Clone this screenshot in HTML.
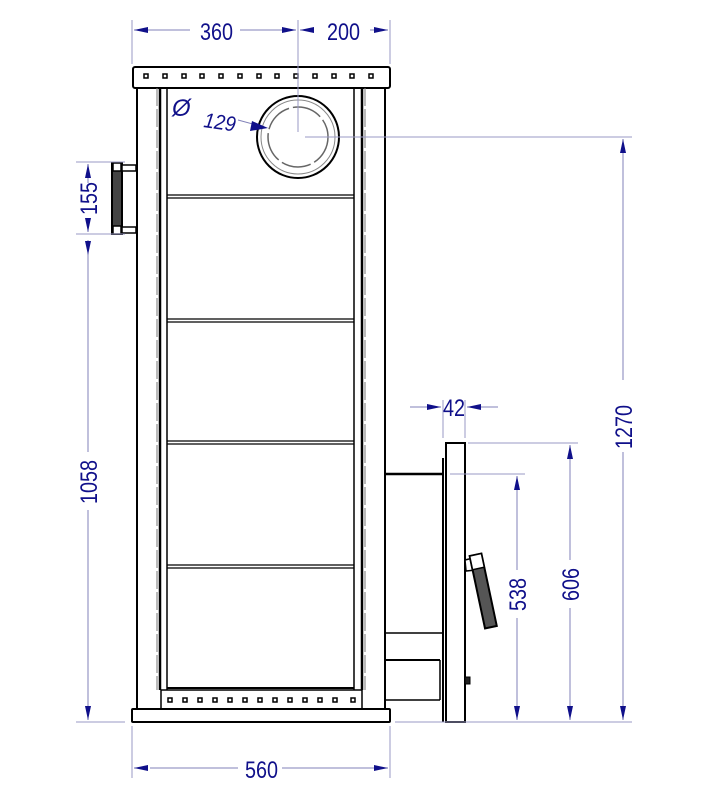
<!DOCTYPE html>
<html><head><meta charset="utf-8"><style>body{margin:0;background:#fff}svg{display:block}</style></head><body>
<svg width="702" height="800" viewBox="0 0 702 800" xmlns="http://www.w3.org/2000/svg" font-family="Liberation Sans, sans-serif">
<defs>
<marker id="a" markerWidth="14" markerHeight="6" refX="14" refY="3" orient="auto" markerUnits="userSpaceOnUse"><path d="M0,0 L14,3 L0,6 z" fill="#10108a"/></marker>
</defs>
<g stroke="#000" fill="none">
<rect x="133" y="67" width="257" height="21" rx="2" stroke-width="2" fill="#fff"/>
<line x1="137" y1="88" x2="137" y2="709" stroke-width="2"/>
<line x1="385" y1="88" x2="385" y2="709" stroke-width="2"/>
<line x1="160" y1="88" x2="160" y2="690" stroke-width="2.5"/>
<line x1="157" y1="88" x2="157" y2="690" stroke-width="1" stroke-dasharray="18,3" stroke="#777"/>
<line x1="167" y1="88" x2="167" y2="690" stroke-width="1.5"/>
<line x1="354" y1="88" x2="354" y2="690" stroke-width="1.5"/>
<line x1="362" y1="88" x2="362" y2="690" stroke-width="2.5"/>
<line x1="365" y1="88" x2="365" y2="690" stroke-width="1" stroke-dasharray="18,3" stroke="#777"/>
<rect x="161" y="690" width="201" height="19" stroke-width="1.5" fill="#fff"/>
<line x1="167" y1="688" x2="354" y2="688" stroke-width="2"/>
<rect x="132" y="709" width="258" height="13" rx="1" stroke-width="2" fill="#fff"/>
<g stroke-width="1.2"><line x1="167" y1="195" x2="354" y2="195"/><line x1="167" y1="198" x2="354" y2="198"/>
<line x1="167" y1="319" x2="354" y2="319"/><line x1="167" y1="322" x2="354" y2="322"/>
<line x1="167" y1="441" x2="354" y2="441"/><line x1="167" y1="444" x2="354" y2="444"/>
<line x1="167" y1="565" x2="354" y2="565"/><line x1="167" y1="568" x2="354" y2="568"/></g>
<circle cx="298" cy="137" r="41" stroke-width="2"/>
<circle cx="298" cy="137" r="37" stroke-width="1" stroke="#888"/>
<circle cx="298" cy="137" r="30" stroke-width="1.5" stroke="#666" stroke-dasharray="30,4"/>
<rect x="112" y="163" width="10" height="71" stroke-width="2" fill="#444"/>
<rect x="113" y="163" width="8" height="8" fill="#fff" stroke-width="1.5"/>
<rect x="113" y="226" width="8" height="8" fill="#fff" stroke-width="1.5"/>
<rect x="122" y="165" width="14" height="6" fill="#fff" stroke-width="1.5"/>
<rect x="122" y="227" width="14" height="6" fill="#fff" stroke-width="1.5"/>
<line x1="385" y1="474" x2="443" y2="474" stroke-width="2.5"/>
<line x1="385" y1="633" x2="443" y2="633" stroke-width="1.5"/>
<line x1="385" y1="660" x2="440" y2="660" stroke-width="2"/>
<line x1="385" y1="700" x2="440" y2="700" stroke-width="1.5"/>
<line x1="440" y1="660" x2="440" y2="700" stroke-width="1.5"/>
<line x1="443" y1="458" x2="443" y2="722" stroke-width="2"/>
<rect x="446" y="443" width="19" height="279" stroke-width="2" fill="#fff"/>
<rect x="465" y="677" width="5" height="7" fill="#222" stroke-width="1"/>
<path d="M465,560 L473,558 L476,570 L466,571 z" stroke-width="1.5" fill="#fff"/>
<g transform="rotate(-12 483 590)"><rect x="477" y="554" width="12" height="74" stroke-width="2" fill="#555"/><rect x="477" y="554" width="12" height="14" stroke-width="1.5" fill="#fff"/></g>
</g>
<g fill="#fff" stroke="#000" stroke-width="1.5">
<rect x="144" y="74" width="4" height="4"/><rect x="163" y="74" width="4" height="4"/><rect x="182" y="74" width="4" height="4"/><rect x="200" y="74" width="4" height="4"/><rect x="219" y="74" width="4" height="4"/><rect x="238" y="74" width="4" height="4"/><rect x="257" y="74" width="4" height="4"/><rect x="275" y="74" width="4" height="4"/><rect x="294" y="74" width="4" height="4"/><rect x="313" y="74" width="4" height="4"/><rect x="332" y="74" width="4" height="4"/><rect x="350" y="74" width="4" height="4"/><rect x="369" y="74" width="4" height="4"/>
<rect x="168" y="698" width="4" height="4"/><rect x="183" y="698" width="4" height="4"/><rect x="198" y="698" width="4" height="4"/><rect x="213" y="698" width="4" height="4"/><rect x="228" y="698" width="4" height="4"/><rect x="243" y="698" width="4" height="4"/><rect x="258" y="698" width="4" height="4"/><rect x="273" y="698" width="4" height="4"/><rect x="288" y="698" width="4" height="4"/><rect x="303" y="698" width="4" height="4"/><rect x="318" y="698" width="4" height="4"/><rect x="333" y="698" width="4" height="4"/><rect x="351" y="698" width="4" height="4"/>
</g>
<g stroke="#9a9ac4" stroke-width="1" fill="none">
<line x1="132" y1="20" x2="132" y2="64"/><line x1="298" y1="20" x2="298" y2="132"/><line x1="390" y1="20" x2="390" y2="64"/>
<line x1="305" y1="137" x2="632" y2="137"/>
<line x1="76" y1="162" x2="125" y2="162"/><line x1="76" y1="234" x2="125" y2="234"/><line x1="76" y1="722" x2="125" y2="722"/>
<line x1="132" y1="726" x2="132" y2="778"/><line x1="390" y1="726" x2="390" y2="778"/>
<line x1="468" y1="443" x2="578" y2="443"/><line x1="450" y1="474" x2="525" y2="474"/>
<line x1="395" y1="722" x2="632" y2="722"/>
<line x1="443" y1="400" x2="443" y2="438"/><line x1="465" y1="400" x2="465" y2="438"/>
</g>
<g stroke="#8080b8" stroke-width="1" fill="none">
<line x1="145" y1="30" x2="190" y2="30"/><line x1="240" y1="30" x2="296" y2="30" marker-end="url(#a)"/><line x1="136" y1="30" x2="134" y2="30" marker-end="url(#a)"/>
<line x1="310" y1="30" x2="300" y2="30" marker-end="url(#a)"/><line x1="370" y1="30" x2="388" y2="30" marker-end="url(#a)"/>
<line x1="88" y1="183" x2="88" y2="164" marker-end="url(#a)"/><line x1="88" y1="218" x2="88" y2="232" marker-end="url(#a)"/>
<line x1="88" y1="250" x2="88" y2="452"/><line x1="88" y1="510" x2="88" y2="720" marker-end="url(#a)"/><line x1="88" y1="240" x2="88" y2="255" marker-end="url(#a)"/>
<line x1="136" y1="768" x2="134" y2="768" marker-end="url(#a)"/><line x1="150" y1="768" x2="238" y2="768"/><line x1="282" y1="768" x2="388" y2="768" marker-end="url(#a)"/>
<line x1="410" y1="407" x2="441" y2="407" marker-end="url(#a)"/><line x1="498" y1="407" x2="467" y2="407" marker-end="url(#a)"/>
<line x1="570" y1="560" x2="570" y2="445" marker-end="url(#a)"/><line x1="570" y1="608" x2="570" y2="720" marker-end="url(#a)"/>
<line x1="517" y1="570" x2="517" y2="476" marker-end="url(#a)"/><line x1="517" y1="618" x2="517" y2="720" marker-end="url(#a)"/>
<line x1="623" y1="380" x2="623" y2="139" marker-end="url(#a)"/><line x1="623" y1="452" x2="623" y2="720" marker-end="url(#a)"/>
<line x1="238" y1="120" x2="260" y2="126"/><path d="M252,121 L268,128 L250,131 z" fill="#10108a" stroke="none"/>
</g>
<g fill="#10108a" font-size="24">
<text x="200" y="40" textLength="33" lengthAdjust="spacingAndGlyphs">360</text>
<text x="327" y="40" textLength="33" lengthAdjust="spacingAndGlyphs">200</text>
<text x="245" y="778" textLength="33" lengthAdjust="spacingAndGlyphs">560</text>
<text x="443" y="416" textLength="22" lengthAdjust="spacingAndGlyphs">42</text>
<text transform="translate(97,215) rotate(-90)" textLength="33" lengthAdjust="spacingAndGlyphs">155</text>
<text transform="translate(97,504) rotate(-90)" textLength="44" lengthAdjust="spacingAndGlyphs">1058</text>
<text transform="translate(526,611) rotate(-90)" textLength="33" lengthAdjust="spacingAndGlyphs">538</text>
<text transform="translate(579,601) rotate(-90)" textLength="33" lengthAdjust="spacingAndGlyphs">606</text>
<text transform="translate(632,449) rotate(-90)" textLength="44" lengthAdjust="spacingAndGlyphs">1270</text>
<text transform="translate(203,127) rotate(8)" font-style="italic" font-size="21" textLength="32" lengthAdjust="spacingAndGlyphs">129</text>
<text x="172" y="116" font-size="24" font-style="italic">Ø</text>
</g>
</svg>
</body></html>
